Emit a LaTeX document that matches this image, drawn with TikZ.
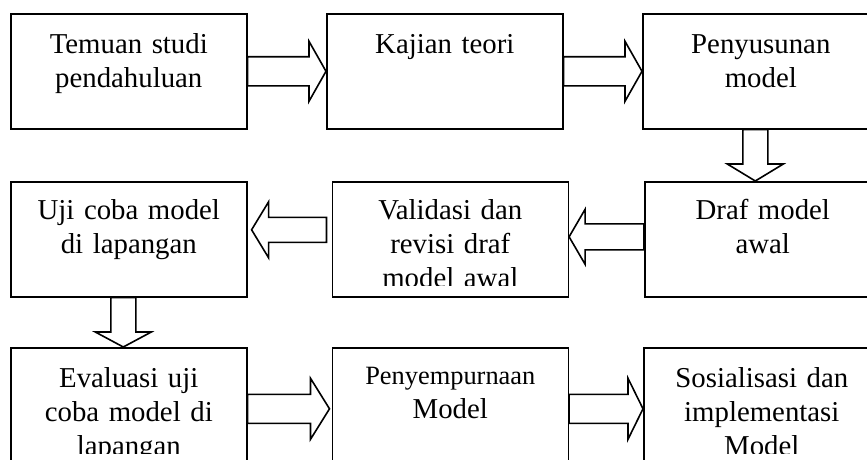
\documentclass[tikz,border=0pt]{standalone}
\usepackage{fontspec}
\setmainfont{Liberation Serif}
\usepackage{tikz}
\usetikzlibrary{calc}

\begin{document}
\begin{tikzpicture}[x=1pt, y=1pt,
    box/.style={draw, line width=1.6pt, minimum width=236pt, minimum height=115pt, inner sep=0pt, anchor=north west},
    txt/.style={anchor=base, align=center, text width=230pt, inner sep=0pt, font=\fontsize{28.8}{34}\selectfont},
    blockarrow/.style={draw, line width=1.6pt, fill=white, line join=miter}
]
    \useasboundingbox[fill=white] (0,0) rectangle (867,-460);

    % Boxes
    \node[box] (temuan) at (10,-13) {};
    \node[box] (kajian) at (326,-13) {};
    \node[box] (penyusunan) at (642,-13) {};
    \node[box] (ujicoba) at (10,-181) {};
    \node[box] (validasi) at (331.5,-181) {};
    \node[box] (draf) at (644,-181) {};
    \node[box] (evaluasi) at (10,-347) {};
    \node[box] (penyempurnaan) at (331.5,-347) {};
    \node[box] (sosialisasi) at (643,-347) {};

    % Texts
    \node[txt] (temuantxt) at ($(temuan.north)+(0,-40)$) {Temuan studi\\pendahuluan};
    \node[txt] (kajiantxt) at ($(kajian.north)+(0,-40)$) {Kajian teori};
    \node[txt] (penyusunantxt) at ($(penyusunan.north)+(0,-40)$) {Penyusunan\\model};
    \node[txt] (ujicobatxt) at ($(ujicoba.north)+(0,-38)$) {Uji coba model\\di lapangan};
    \node[txt] (draftxt) at ($(draf.north)+(0,-38)$) {Draf model\\awal};
    \begin{scope}
        \clip (validasi.north west) rectangle ($(validasi.south east)+(0,12)$);
        \node[txt] (validasitxt) at ($(validasi.north)+(0,-38)$) {Validasi dan\\revisi draf\\model awal};
    \end{scope}
    \begin{scope}
        \clip (evaluasi.north west) rectangle ($(sosialisasi.south east)+(0,10)$);
        \node[txt] (evaluasitxt) at ($(evaluasi.north)+(0,-40)$) {Evaluasi uji\\coba model di\\lapangan};
        \node[txt] (penyempurnaantxt) at ($(penyempurnaan.north)+(0,-37)$) {{\fontsize{26.4}{32}\selectfont Penyempurnaan}\\Model};
        \node[txt] (sosialisasitxt) at ($(sosialisasi.north)+(0,-40)$) {Sosialisasi dan\\implementasi\\Model};
    \end{scope}

    % Arrows
    \draw[blockarrow] let \p1=(temuan.east), \p2=(kajian.west) in
        (\x1,\y1+14.5) -- (\x2-17,\y1+14.5) -- (\x2-17,\y1+30) -- (\x2,\y1)
        -- (\x2-17,\y1-30) -- (\x2-17,\y1-14.5) -- (\x1,\y1-14.5) -- cycle;
    \draw[blockarrow] let \p1=(kajian.east), \p2=(penyusunan.west) in
        (\x1,\y1+14.5) -- (\x2-17,\y1+14.5) -- (\x2-17,\y1+30) -- (\x2,\y1)
        -- (\x2-17,\y1-30) -- (\x2-17,\y1-14.5) -- (\x1,\y1-14.5) -- cycle;
    \draw[blockarrow] let \p1=($(penyusunan.south)+(-5.5,0)$), \p2=(draf.north) in
        (\x1-12.5,\y1) -- (\x1-12.5,\y2+17) -- (\x1-28,\y2+17) -- (\x1,\y2)
        -- (\x1+28,\y2+17) -- (\x1+12.5,\y2+17) -- (\x1+12.5,\y1) -- cycle;
    \draw[blockarrow] let \p1=($(draf.west)+(0,2.5)$), \p2=(validasi.east) in
        (\x1,\y1+13) -- (\x2+16,\y1+13) -- (\x2+16,\y1+27.5) -- (\x2,\y1)
        -- (\x2+16,\y1-27.5) -- (\x2+16,\y1-13) -- (\x1,\y1-13) -- cycle;
    \draw[blockarrow] let \p1=($(validasi.west)+(-5,9.5)$), \p2=($(ujicoba.east)+(4,0)$) in
        (\x1,\y1+12.5) -- (\x2+17,\y1+12.5) -- (\x2+17,\y1+28) -- (\x2,\y1)
        -- (\x2+17,\y1-28) -- (\x2+17,\y1-12.5) -- (\x1,\y1-12.5) -- cycle;
    \draw[blockarrow] let \p1=($(ujicoba.south)+(-5.5,0)$), \p2=(evaluasi.north) in
        (\x1-12.5,\y1) -- (\x1-12.5,\y2+15) -- (\x1-28,\y2+15) -- (\x1,\y2)
        -- (\x1+28,\y2+15) -- (\x1+12.5,\y2+15) -- (\x1+12.5,\y1) -- cycle;
    \draw[blockarrow] let \p1=($(evaluasi.east)+(0,-3.5)$), \p2=($(penyempurnaan.west)+(-2,-3.5)$) in
        (\x1,\y1+14.5) -- (\x2-19,\y1+14.5) -- (\x2-19,\y1+30.5) -- (\x2,\y1)
        -- (\x2-19,\y1-30.5) -- (\x2-19,\y1-14.5) -- (\x1,\y1-14.5) -- cycle;
    \draw[blockarrow] let \p1=($(penyempurnaan.east)+(0,-3.5)$), \p2=($(sosialisasi.west)+(0,-3.5)$) in
        (\x1,\y1+14.5) -- (\x2-15,\y1+14.5) -- (\x2-15,\y1+30.5) -- (\x2,\y1)
        -- (\x2-15,\y1-30.5) -- (\x2-15,\y1-14.5) -- (\x1,\y1-14.5) -- cycle;

\end{tikzpicture}
\end{document}
